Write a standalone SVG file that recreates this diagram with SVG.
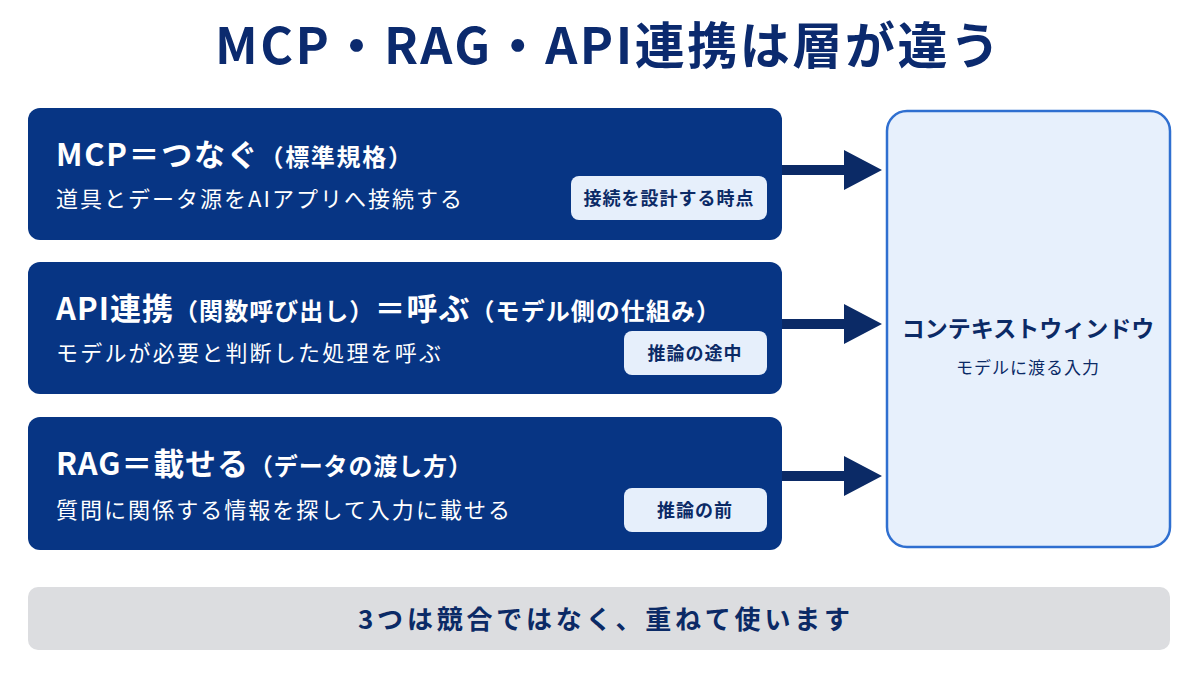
<svg xmlns="http://www.w3.org/2000/svg" width="1200" height="675" viewBox="0 0 1200 675">
<style>
text{font-family:"Noto Sans CJK JP","Noto Sans",sans-serif}
.box{fill:#073584}
.h{fill:#fff;font-weight:700;font-size:31px}
.hs{fill:#fff;font-weight:700;font-size:24px}
.d{fill:#fff;font-size:22px}
.tag{fill:#e6effb}
.tt{fill:#0b2a66;font-weight:700;font-size:18px;text-anchor:middle;letter-spacing:1px}
.arr{fill:#0b2a66}
</style>
<rect width="1200" height="675" fill="#fff"/>
<text x="215" y="64" font-size="50" font-weight="700" fill="#0b2a6e" textLength="785" lengthAdjust="spacing">MCP・RAG・API連携は層が違う</text>
<g id="mcp">
<rect class="box" x="28" y="108" width="754" height="132" rx="12"/>
<text x="56" y="166" class="h" textLength="356" lengthAdjust="spacing">MCP＝つなぐ<tspan class="hs">（標準規格）</tspan></text>
<text x="56" y="207" class="d" textLength="406" lengthAdjust="spacing">道具とデータ源をAIアプリへ接続する</text>
<rect class="tag" x="571" y="176" width="196" height="44" rx="8"/>
<text x="669" y="205" class="tt">接続を設計する時点</text>
</g>
<g id="api">
<rect class="box" x="28" y="262" width="754" height="132" rx="12"/>
<text x="56" y="320" class="h" textLength="664" lengthAdjust="spacing">API連携<tspan class="hs">（関数呼び出し）</tspan>＝呼ぶ<tspan class="hs">（モデル側の仕組み）</tspan></text>
<text x="56" y="361" class="d" textLength="385" lengthAdjust="spacing">モデルが必要と判断した処理を呼ぶ</text>
<rect class="tag" x="624" y="331" width="143" height="44" rx="8"/>
<text x="695" y="360" class="tt">推論の途中</text>
</g>
<g id="rag">
<rect class="box" x="28" y="417" width="754" height="133" rx="12"/>
<text x="56" y="475" class="h" textLength="416" lengthAdjust="spacing">RAG＝載せる<tspan class="hs">（データの渡し方）</tspan></text>
<text x="56" y="518" class="d" textLength="454" lengthAdjust="spacing">質問に関係する情報を探して入力に載せる</text>
<rect class="tag" x="624" y="488" width="143" height="44" rx="8"/>
<text x="695" y="517" class="tt">推論の前</text>
</g>
<g id="ctx">
<rect x="887" y="111" width="283" height="436" rx="20" fill="#e7f0fc" stroke="#2f6fd0" stroke-width="2.5"/>
<text x="1028" y="337" text-anchor="middle" font-size="23" font-weight="700" fill="#0b2a66">コンテキストウィンドウ</text>
<text x="1028" y="374" text-anchor="middle" font-size="17" fill="#0b2a66" letter-spacing="1">モデルに渡る入力</text>
</g>
<g id="connectors" class="arr">
<path d="M782 165h62v-15l38 20-38 20v-15h-62z"/>
<path d="M782 319h62v-15l38 20-38 20v-15h-62z"/>
<path d="M782 471h62v-15l38 20-38 20v-15h-62z"/>
</g>
<g id="note">
<rect x="28" y="587" width="1142" height="63" rx="10" fill="#dcdde0"/>
<text x="358" y="629" font-size="26" font-weight="700" fill="#0b2a66" textLength="492" lengthAdjust="spacing">3つは競合ではなく、重ねて使います</text>
</g>
</svg>
